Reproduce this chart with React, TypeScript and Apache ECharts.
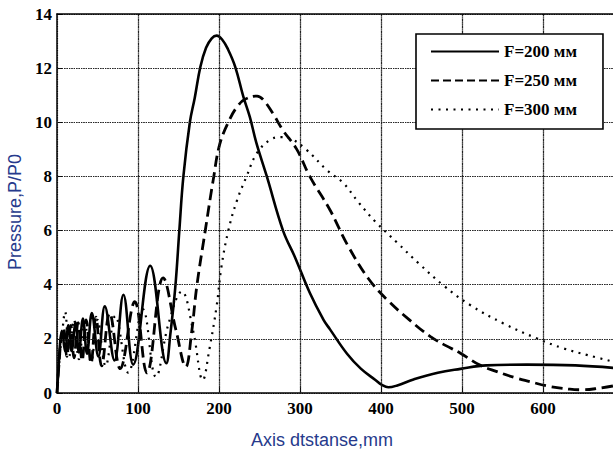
import React, { useEffect, useRef } from "react";
import * as echarts from "echarts";

// Tick values
const xTicks = [0, 100, 200, 300, 400, 500, 600];
const yTicks = [0, 2, 4, 6, 8, 10, 12, 14];

// F = 200 mm (solid)
const f200: [number, number][] = [
  [0, 0], [2, 1.0], [4, 1.9], [6, 2.3], [10, 1.55], [14, 2.5], [18, 1.55], [23, 2.6], [27, 1.5],
  [32, 2.75], [37, 1.45], [43, 2.95], [51, 1.35], [59, 3.2], [71, 1.2], [82, 3.63], [94, 1.05],
  [115, 4.7], [135, 1.1], [140, 2.2], [146, 3.9], [151, 6.0], [156, 8.0], [164, 10.0], [170, 10.9],
  [177, 12.05], [184, 12.75], [191, 13.1], [197, 13.2], [204, 13.05], [211, 12.7], [220, 12.05],
  [230, 10.95], [238, 10.2], [246, 9.25], [259, 8.0], [279, 6.0], [294, 5.0], [312, 3.7], [329, 2.7],
  [337, 2.35], [358, 1.45], [375, 0.9], [393, 0.48], [401, 0.3], [409, 0.21], [420, 0.28], [440, 0.5],
  [470, 0.75], [498, 0.89], [530, 1.02], [580, 1.05], [640, 1.02], [690, 0.92],
];

// F = 250 mm (dashed)
const f250: [number, number][] = [
  [0, 0], [3, 1.3], [5, 2.0], [8, 2.4], [12, 1.35], [17, 2.5], [21, 1.3], [26, 2.6], [31, 1.2],
  [36, 2.7], [42, 1.1], [48, 2.8], [55, 1.0], [65, 2.95], [78, 0.9], [96, 3.37], [111, 0.74],
  [131, 4.25], [147, 2.3], [159, 0.97], [166, 2.2], [172.5, 3.93], [183, 6.0], [193, 7.9], [201, 9.2],
  [213, 10.1], [223, 10.6], [232, 10.85], [247, 10.97], [254, 10.85], [266, 10.35], [279, 9.7],
  [296, 9.0], [312, 8.0], [337, 6.76], [358, 5.5], [385, 4.2], [409, 3.4], [435, 2.7], [461, 2.08],
  [480, 1.75], [498, 1.47], [522, 1.03], [543, 0.79], [565, 0.57], [584, 0.42], [605, 0.26],
  [633, 0.14], [648, 0.12], [665, 0.16], [690, 0.28],
];

// F = 300 mm (dotted)
const f300: [number, number][] = [
  [0, 0], [3, 1.2], [6, 2.1], [10, 3.0], [15, 1.35], [21, 2.7], [27, 1.25], [34, 2.6], [42, 1.15],
  [50, 2.7], [60, 1.0], [72, 2.85], [88, 0.75], [106, 3.1], [122, 0.6], [138, 2.6], [154, 3.75],
  [168, 2.3], [180, 0.48], [188, 1.6], [197, 3.2], [203, 4.67], [211.5, 6.0], [222, 7.1], [234, 8.0],
  [246.5, 8.85], [263, 9.35], [276, 9.45], [288, 9.4], [308, 8.98], [333, 8.24], [353.5, 7.75],
  [372, 7.05], [393, 6.33], [420, 5.55], [446, 4.8], [478, 3.95], [510, 3.25], [551, 2.57],
  [592, 2.02], [625, 1.65], [655, 1.4], [690, 1.13],
];

const legendNames = ["F=200 мм", "F=250 мм", "F=300 мм"];

const SERIF = "Liberation Serif";
const SANS = "Liberation Sans";
const NAME_COLOR = "#263a8c";

export default function App() {
  const ref = useRef<HTMLDivElement>(null);
  useEffect(() => {
    if (!ref.current) return;
    const chart = echarts.init(ref.current, undefined, { renderer: "svg" });
    const split = { show: true, lineStyle: { color: "#222", width: 1.2, type: "dotted" } };
    const gridMarks = [
      ...xTicks.slice(1).map((v) => ({ xAxis: v })),
      ...yTicks.slice(1, -1).map((v) => ({ yAxis: v })),
    ];
    chart.setOption({
      animation: false,
      grid: { left: 57, top: 14, width: 559, height: 379, outerBoundsMode: "none", containLabel: false },
      legend: {
        data: legendNames,
        orient: "vertical",
        left: 416,
        top: 34,
        itemWidth: 68,
        itemHeight: 14,
        itemGap: 12,
        padding: [9, 26, 11, 14],
        borderColor: "#000",
        borderWidth: 1.6,
        borderRadius: 0,
        backgroundColor: "#fff",
        itemStyle: { color: "transparent", borderWidth: 0, opacity: 0 },
        textStyle: { color: "#000", fontFamily: SERIF, fontWeight: "bold", fontSize: 17 },
        z: 10,
      },
      xAxis: [
        {
          type: "value",
          min: 0,
          max: 690,
          interval: 100,
          name: "Axis dtstanse,mm",
          nameLocation: "middle",
          nameGap: 38,
          nameTextStyle: { color: NAME_COLOR, fontFamily: SANS, fontSize: 18, padding: [0, 29, 0, 0] },
          axisLine: { show: true, lineStyle: { color: "#000", width: 1.5 } },
          axisTick: { show: true, inside: true, length: 5, lineStyle: { color: "#000" } },
          axisLabel: {
            color: "#000",
            fontFamily: SERIF,
            fontWeight: "bold",
            fontSize: 17,
            margin: 7,
            showMaxLabel: false,
          },
          splitLine: split,
        },
        {
          type: "value",
          position: "top",
          min: 0,
          max: 690,
          interval: 100,
          axisLine: { show: true, lineStyle: { color: "#000", width: 1.5 } },
          axisTick: { show: false },
          axisLabel: { show: false },
          splitLine: { show: false },
        },
      ],
      yAxis: {
        type: "value",
        min: 0,
        max: 14,
        interval: 2,
        name: "Pressure,P/P0",
        nameLocation: "middle",
        nameGap: 23,
        nameTextStyle: { color: NAME_COLOR, fontFamily: SANS, fontSize: 18, padding: [0, 17, 0, 0] },
        axisLine: { show: true, lineStyle: { color: "#000", width: 1.5 } },
        axisTick: { show: true, inside: true, length: 5, lineStyle: { color: "#000" } },
        axisLabel: { color: "#000", fontFamily: SERIF, fontWeight: "bold", fontSize: 17, margin: 5 },
        splitLine: split,
      },
      series: [
        {
          name: legendNames[2],
          type: "line",
          data: f300,
          showSymbol: false,
          symbol: "none",
          smooth: 0.4,
          color: "#000",
          lineStyle: { color: "#000", width: 2.2, type: [2, 5.5] },
          markLine: {
            silent: true,
            symbol: "none",
            label: { show: false },
            lineStyle: { color: "#222", width: 1.2, type: "dotted" },
            data: gridMarks,
          },
        },
        {
          name: legendNames[1],
          type: "line",
          data: f250,
          showSymbol: false,
          symbol: "none",
          smooth: 0.4,
          color: "#000",
          lineStyle: { color: "#000", width: 2.8, type: "dashed" },
        },
        {
          name: legendNames[0],
          type: "line",
          data: f200,
          showSymbol: false,
          symbol: "none",
          smooth: 0.4,
          color: "#000",
          lineStyle: { color: "#000", width: 2.6, type: "solid" },
        },
      ],
    });
    return () => chart.dispose();
  }, []);
  return <div ref={ref} style={{ position: "absolute", left: 0, top: 0, width: 613, height: 453 }} />;
}
